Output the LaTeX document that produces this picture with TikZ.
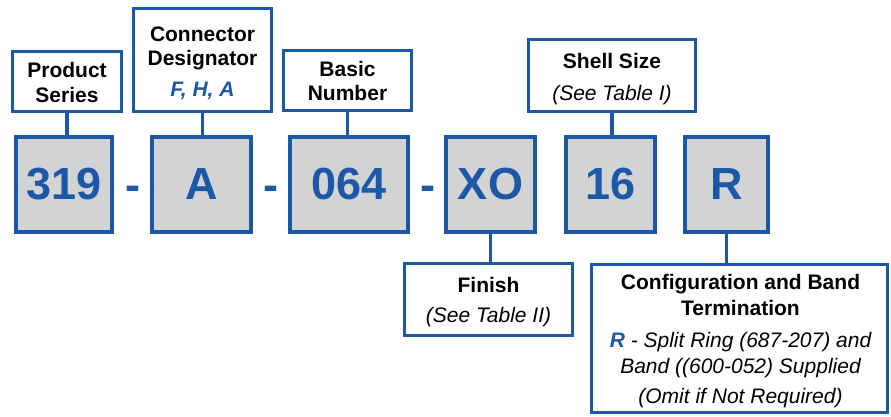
\documentclass[tikz,border=0pt]{standalone}
\usepackage{fontspec}
\setmainfont{Liberation Sans}
\definecolor{bblue}{RGB}{28,88,166}
\definecolor{bgray}{RGB}{209,211,212}
\begin{document}
\begin{tikzpicture}[x=1pt,y=-1pt,
  numbox/.style={draw=bblue,fill=bgray,line width=3.8pt,inner sep=0pt,
    text=bblue,font=\fontsize{45}{50}\selectfont\bfseries},
  lblbox/.style={draw=bblue,fill=white,line width=3.4pt,inner sep=0pt},
  conn/.style={draw=bblue,line width=3.5pt},
  hd/.style={anchor=base,inner sep=0pt,font=\fontsize{21}{25}\selectfont\bfseries},
  it/.style={anchor=base,inner sep=0pt,font=\fontsize{21}{25}\selectfont\itshape},
  dashtxt/.style={anchor=base,inner sep=0pt,text=bblue,font=\fontsize{45}{50}\selectfont\bfseries}]
\useasboundingbox (0,0) rectangle (891,416);
% number boxes
\node[numbox,minimum width=96.2pt,minimum height=95.2pt] (n319) at (64,184.5) {319};
\node[numbox,minimum width=99.2pt,minimum height=95.2pt] (nA) at (201.5,184.5) {A};
\node[numbox,minimum width=118.2pt,minimum height=95.2pt] (n064) at (349,184.5) {064};
\node[numbox,minimum width=89.2pt,minimum height=95.2pt] (nXO) at (490.5,184.5) {XO};
\node[numbox,minimum width=89.2pt,minimum height=95.2pt] (n16) at (610.5,184.5) {16};
\node[numbox,minimum width=83.2pt,minimum height=95.2pt] (nR) at (726.5,184.5) {R};
% dashes
\node[dashtxt] (d1) at (133,200.5) {-};
\node[dashtxt] (d2) at (271,200.5) {-};
\node[dashtxt] (d3) at (428,200.5) {-};
% label boxes
\node[lblbox,minimum width=108.6pt,minimum height=59.6pt] (ps) at (67,81.5) {};
\node[lblbox,minimum width=137.6pt,minimum height=102.6pt] (cd) at (202.5,60) {};
\node[lblbox,minimum width=127.6pt,minimum height=59.6pt] (bn) at (347.5,80.5) {};
\node[lblbox,minimum width=166.6pt,minimum height=71.6pt] (ss) at (612,75.5) {};
\node[lblbox,minimum width=167.6pt,minimum height=71.6pt] (fi) at (488.5,299.5) {};
\node[lblbox,minimum width=295.6pt,minimum height=147.6pt] (cf) at (739.5,338.5) {};
% connectors
\draw[conn] (ps.south) -- (ps.south |- n319.north);
\draw[conn] (cd.south) -- (cd.south |- nA.north);
\draw[conn] (bn.south) -- (bn.south |- n064.north);
\draw[conn] (ss.south) -- (ss.south |- n16.north);
\draw[conn] (nXO.south) -- (nXO.south |- fi.north);
\draw[conn] (nR.south) -- (nR.south |- cf.north);
% label texts
\node[hd] (ps1) at (67,77) {Product};
\node[hd] (ps2) at (67,102) {Series};
\node[hd] (cd1) at (202.5,41) {Connector};
\node[hd] (cd2) at (202.5,65) {Designator};
\node[hd,text=bblue,font=\fontsize{21}{25}\selectfont\bfseries\itshape] (cd3) at (202.5,96) {F, H, A};
\node[hd] (bn1) at (347.5,76) {Basic};
\node[hd] (bn2) at (347.5,100) {Number};
\node[hd] (ss1) at (612,68) {Shell Size};
\node[it] (ss2) at (612,100) {(See Table I)};
\node[hd] (fi1) at (488.5,292) {Finish};
\node[it] (fi2) at (488.5,322) {(See Table II)};
\node[hd] (cf1) at (740.5,289) {Configuration and Band};
\node[hd] (cf2) at (740.5,315) {Termination};
\node[it] (cf3) at (740.5,347) {\textcolor{bblue}{\bfseries R} - Split Ring (687-207) and};
\node[it] (cf4) at (740.5,373) {Band ((600-052) Supplied};
\node[it] (cf5) at (740.5,403) {(Omit if Not Required)};
\end{tikzpicture}
\end{document}
